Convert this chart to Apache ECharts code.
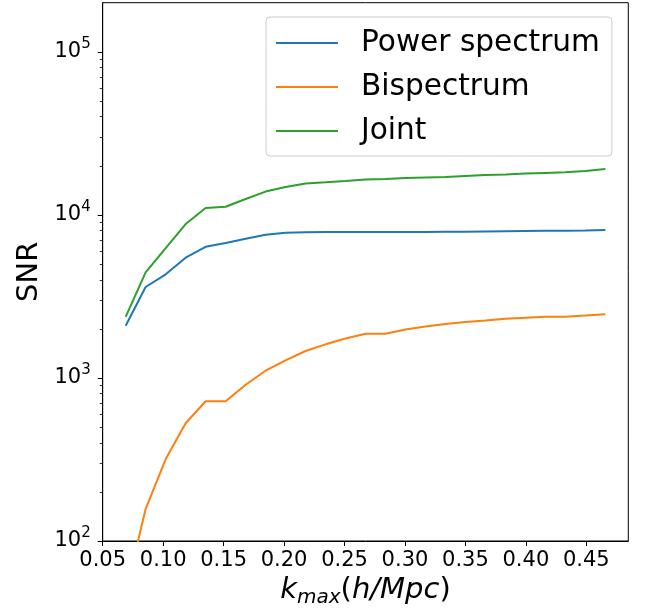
<!DOCTYPE html>
<html>
<head>
<meta charset="utf-8">
<script src="https://cdn.jsdelivr.net/npm/echarts@6/dist/echarts.min.js"></script>
<style>
html,body{margin:0;padding:0;background:#fff;}
#chart{width:651px;height:614px;}
</style>
</head>
<body>
<div id="chart"></div>
<script>
const kmax = [0.069, 0.0855, 0.1021, 0.1186, 0.1351, 0.1517, 0.1682, 0.1847, 0.2012, 0.2178, 0.2343, 0.2508, 0.2674, 0.2839, 0.3004, 0.3169, 0.3335, 0.35, 0.3665, 0.3831, 0.3996, 0.4161, 0.4326, 0.4492, 0.4657];
const powerSpectrum = [2090, 3610, 4320, 5460, 6370, 6720, 7140, 7540, 7760, 7810, 7845, 7845, 7845, 7850, 7850, 7855, 7870, 7890, 7910, 7935, 7960, 7980, 8000, 8030, 8070];
const bispectrum = [48, 157, 318, 527, 719, 719, 908, 1107, 1282, 1462, 1607, 1744, 1866, 1866, 1980, 2066, 2140, 2202, 2249, 2303, 2339, 2373, 2373, 2413, 2455];
const joint = [2370, 4440, 6255, 8780, 11010, 11210, 12500, 13890, 14800, 15560, 15830, 16120, 16460, 16580, 16810, 16930, 17050, 17300, 17540, 17710, 17920, 18090, 18220, 18560, 19090];
const seriesNames = ['Power spectrum', 'Bispectrum', 'Joint'];
const xTicks = [0.05, 0.10, 0.15, 0.20, 0.25, 0.30, 0.35, 0.40, 0.45];
const yMajorTicks = [100, 1000, 10000, 100000];
const yMinorTicks = [200,300,400,500,600,700,800,900,2000,3000,4000,5000,6000,7000,8000,9000,20000,30000,40000,50000,60000,70000,80000,90000];

const colors = ['#1f77b4', '#ff7f0e', '#2ca02c'];
const font = 'DejaVu Sans';
function pairs(ys){ return kmax.map((x,i)=>[x, ys[i]]); }

const chart = echarts.init(document.getElementById('chart'), null, {renderer:'canvas'});
chart.setOption({
  animation: false,
  backgroundColor: '#fff',
  textStyle: {fontFamily: font},
  grid: {left: 102.7, right: 22.7, top: 2.7, bottom: 73, show: true, borderColor: '#000', borderWidth: 1, backgroundColor: 'transparent'},
  legend: {
    orient: 'vertical', left: 266, top: 17,
    icon: 'rect', itemWidth: 62, itemHeight: 2, itemGap: 10,
    padding: [9, 12, 8, 10],
    backgroundColor: '#fff', borderColor: '#cccccc', borderWidth: 1, borderRadius: 4,
    textStyle: {fontFamily: font, fontSize: 29.6, color: '#000', lineHeight: 34, padding: [0,0,0,18]},
    data: seriesNames
  },
  xAxis: {
    type: 'value', min: 0.05, max: 0.4847,
    axisLine: {show: true, lineStyle: {color: '#000', width: 1}},
    axisTick: {show: true, length: 5, lineStyle: {color: '#000', width: 1}, customValues: xTicks},
    axisLabel: {customValues: xTicks, fontFamily: font, fontSize: 21, color: '#000', margin: 9, lineHeight: 21,
      formatter: v => v.toFixed(2)},
    splitLine: {show: false},
    name: '{i|k}{s|max}{p|(}{i|h/Mpc}{p|)}',
    nameLocation: 'middle', nameGap: 32,
    nameTextStyle: {fontFamily: font, fontSize: 29, color: '#000',
      rich: {
        i: {fontFamily: font, fontSize: 29, fontStyle: 'italic', color: '#000', lineHeight: 34, verticalAlign: 'middle'},
        p: {fontFamily: font, fontSize: 29, color: '#000', lineHeight: 34, verticalAlign: 'middle'},
        s: {fontFamily: font, fontSize: 20, fontStyle: 'italic', color: '#000', lineHeight: 12, verticalAlign: 'bottom'}
      }}
  },
  yAxis: [{
    type: 'log', logBase: 10, min: 100, max: 200000,
    axisLine: {show: true, lineStyle: {color: '#000', width: 1}},
    axisTick: {show: true, length: 5, lineStyle: {color: '#000', width: 1}, customValues: yMajorTicks},
    axisLabel: {customValues: yMajorTicks, margin: 12,
      formatter: v => '{b|10}{s|' + Math.round(Math.log10(v)) + '}',
      rich: {
        b: {fontFamily: font, fontSize: 21, color: '#000', lineHeight: 30, verticalAlign: 'middle'},
        s: {fontFamily: font, fontSize: 15, color: '#000', lineHeight: 21, verticalAlign: 'top'}
      }},
    splitLine: {show: false},
    name: 'SNR', nameLocation: 'middle', nameGap: 58, nameRotate: 90,
    nameTextStyle: {fontFamily: font, fontSize: 29, color: '#000'}
  }, {
    type: 'log', logBase: 10, min: 100, max: 200000, position: 'left',
    axisLine: {show: false},
    axisTick: {show: true, length: 3, lineStyle: {color: '#000', width: 0.8}, customValues: yMinorTicks},
    axisLabel: {show: false},
    splitLine: {show: false}
  }],
  series: [
    {name: seriesNames[0], type: 'line', data: pairs(powerSpectrum), showSymbol: false, symbol: 'none', color: colors[0], lineStyle: {width: 2, color: colors[0]}, clip: true},
    {name: seriesNames[1], type: 'line', data: pairs(bispectrum), showSymbol: false, symbol: 'none', color: colors[1], lineStyle: {width: 2, color: colors[1]}, clip: true},
    {name: seriesNames[2], type: 'line', data: pairs(joint), showSymbol: false, symbol: 'none', color: colors[2], lineStyle: {width: 2, color: colors[2]}, clip: true}
  ]
});
</script>
</body>
</html>
